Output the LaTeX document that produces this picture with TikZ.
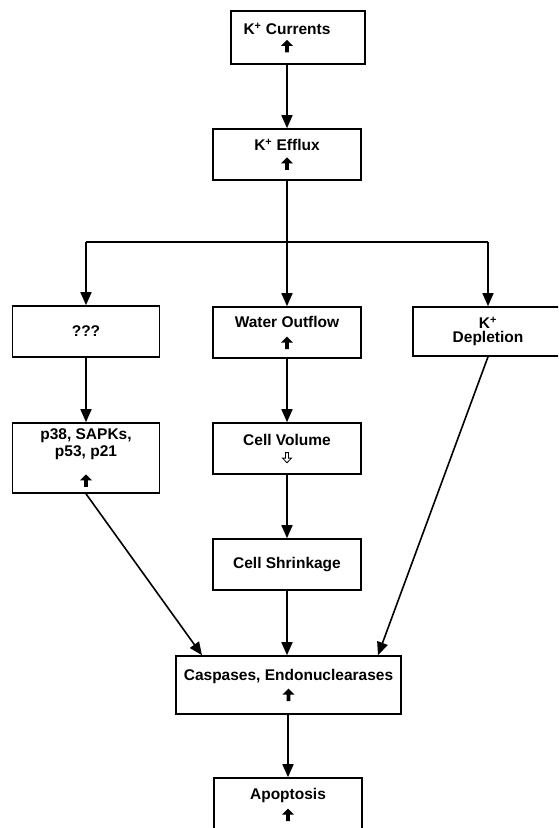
\documentclass[tikz,border=0pt]{standalone}
\usepackage{fontspec}
\setmainfont{Liberation Sans}
\usetikzlibrary{arrows.meta}

\newcommand{\upar}{\tikz[baseline=0pt]\fill (-1.8pt,0pt) -- (1.8pt,0pt) -- (1.8pt,6.5pt) -- (6pt,6.5pt) -- (0pt,12.5pt) -- (-6pt,6.5pt) -- (-1.8pt,6.5pt) -- cycle;}
\newcommand{\downhollow}{\tikz[baseline=0pt]\draw[line width=0.8pt] (-1.5pt,10.5pt) -- (1.5pt,10.5pt) -- (1.5pt,5pt) -- (4.5pt,5pt) -- (0pt,0.4pt) -- (-4.5pt,5pt) -- (-1.5pt,5pt) -- cycle;}

\begin{document}
\begin{tikzpicture}[x=1pt,y=1pt,
            txt/.style={font=\fontsize{15.5}{17}\selectfont\bfseries,align=center},
            box/.style={draw,rectangle,line width=1.6pt,txt,inner sep=0pt,minimum width=148pt,minimum height=51pt},
            arr/.style={draw,line width=1.6pt,-{Triangle[length=13pt,width=11pt]}},
            every edge/.style={arr}
          ]
          \useasboundingbox (0,0) rectangle (558,-828);
          \clip (0,0) rectangle (558,-828);

          \node[box,minimum width=134pt,minimum height=53pt,label={[txt,xshift=-11pt]center:{K\textsuperscript{+} Currents\\[1pt]\upar}}] (cur) at (298,-37.5) {};
          \node[box] (eff) at (287,-154.5) {K\textsuperscript{+} Efflux\\[2pt]\upar};
          \coordinate (br) at (287,-242);

          %branches
          \node[box,minimum width=147pt] (q) at (86,-331.5) {???};
          \node[box] (wat) at (287,-332.5) {Water Outflow\\[5pt]\upar};
          \node[box,minimum width=150pt,minimum height=49pt] (dep) at (488,-331.5) {K\textsuperscript{+}\\[-3pt]Depletion};

          %second row
          \node[box,minimum width=147pt,minimum height=70pt] (p38) at (86,-458) {p38, SAPKs,\\p53, p21\\[13pt]\upar};
          \node[box] (vol) at (287,-448.5) {Cell Volume\\[1pt]\downhollow};
          \node[box] (shr) at (287,-564.5) {Cell Shrinkage};

          %bottom
          \node[box,minimum width=225pt,minimum height=58pt] (cas) at (288.5,-685) {Caspases, Endonuclearases\\[4pt]\upar};
          \node[box,minimum height=53pt] (apo) at (288,-804.5) {Apoptosis\\[5pt]\upar};

          \draw[line width=1.6pt] (eff.south) -- (br) (q.north |- br) -- (dep.north |- br);
          \path
          (cur.south -| eff.north) edge (eff.north)
          (q.north |- br) edge (q.north)
          (br) edge (wat.north)
          (dep.north |- br) edge (dep.north)
          (q.south) edge (p38.north)
          (wat.south) edge (vol.north)
          (vol.south) edge (shr.north)
          (shr.south) edge (shr.south |- cas.north)
          (p38.south) edge ([xshift=-86.5pt]cas.north)
          (dep.south) edge ([xshift=89.5pt]cas.north)
          (cas.south -| apo.north) edge (apo.north)
          ;

      \end{tikzpicture}
\end{document}
